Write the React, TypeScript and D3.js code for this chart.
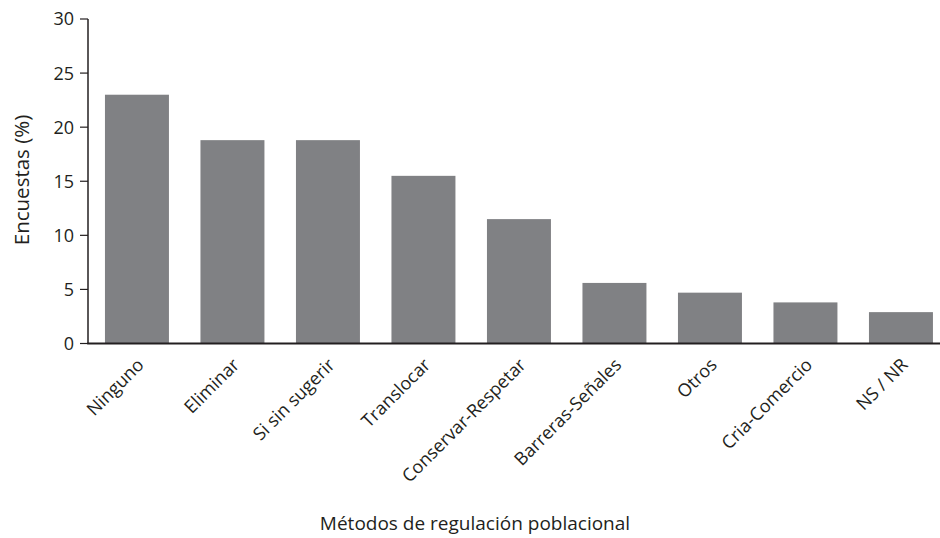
import React from "react";
import * as d3 from "d3";

const categories = ["Ninguno", "Eliminar", "Si sin sugerir", "Translocar", "Conservar-Respetar", "Barreras-Señales", "Otros", "Cria-Comercio", "NS / NR"];
const values = [23, 18.8, 18.8, 15.5, 11.5, 5.6, 4.7, 3.8, 2.9];
const yTicks = [0, 5, 10, 15, 20, 25, 30];

const W = 940;
const H = 538;
const FONT = "'Open Sans', 'Noto Sans', sans-serif";

export default function App() {
  const axisX = 88;
  const axisRight = 940;
  const y = d3.scaleLinear().domain([0, 30]).range([343.5, 19]);
  const x = d3
    .scaleBand<string>()
    .domain(categories)
    .range([89.2, 948.7])
    .paddingInner(0.33)
    .paddingOuter(0.165);

  return (
    <svg width={W} height={H} style={{ position: "absolute", left: 0, top: 0, background: "#fff" }} fontFamily={FONT}>
      {categories.map((c, i) => (
        <rect key={c} x={x(c)} y={y(values[i])} width={x.bandwidth()} height={y(0) - y(values[i])} fill="#808184" />
      ))}
      <line x1={axisX} x2={axisX} y1={y(30)} y2={y(0)} stroke="#231f20" strokeWidth={1.5} />
      <line x1={axisX - 0.75} x2={axisRight} y1={y(0)} y2={y(0)} stroke="#231f20" strokeWidth={2} />
      {yTicks.map((t) => (
        <g key={t} transform={`translate(0,${y(t)})`}>
          <line x1={axisX - 8} x2={axisX} stroke="#231f20" strokeWidth={1.2} />
          <text x={axisX - 14} dy="0.36em" textAnchor="end" fontSize={18} fill="#231f20">
            {t}
          </text>
        </g>
      ))}
      {categories.map((c) => {
        const cx = (x(c) as number) + x.bandwidth() / 2 + 8;
        return (
          <text key={c} transform={`translate(${cx},${366}) rotate(-45)`} textAnchor="end" fontSize={18} fill="#231f20">
            {c}
          </text>
        );
      })}
      <text transform={`translate(29,${180}) rotate(-90)`} textAnchor="middle" fontSize={20.5} fill="#231f20">
        Encuestas (%)
      </text>
      <text x={475} y={530} textAnchor="middle" fontSize={19} fill="#231f20">
        Métodos de regulación poblacional
      </text>
    </svg>
  );
}
